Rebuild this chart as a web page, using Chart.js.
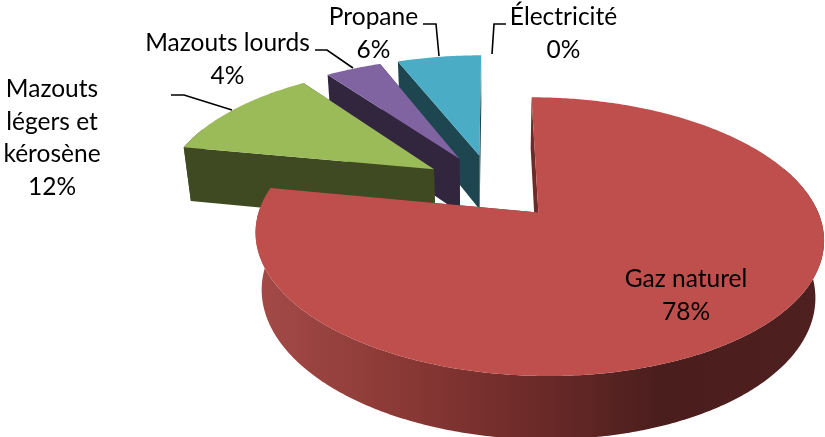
<!DOCTYPE html>
<html><head><meta charset="utf-8">
<style>html,body{margin:0;padding:0;background:#fff}canvas{display:block}</style>
<script src="https://cdn.jsdelivr.net/npm/chart.js@4"></script>
</head><body><canvas id="c" width="825" height="437"></canvas>
<script>
const categories = ["Gaz naturel","Mazouts légers et kérosène","Mazouts lourds","Propane","Électricité"];
const shares = [78,12,4,6,0];
const topColors = ["#BE4F4C","#9BBB59","#8064A2","#4BACC6","#4F81BD"];
const sideColors = ["#6E2A28","#3F4A22","#32263F","#1E4650","#24405E"];

// projection of the pie plane on the page
const VIEW = {xc:492, yc:186.4, F:270.5, A:126.3, B:0.167, K:57, D:0.025, explode:0.26};
function proj(X,Y,low){
  const w = 1 - VIEW.B*Y + (low?VIEW.D:0);
  return [VIEW.xc + VIEW.F*X/w, VIEW.yc + (VIEW.A*Y + (low?VIEW.K:0))/w];
}
function drawArc3D(ctx){
  const a0=this.startAngle, a1=this.endAngle;
  if(a1-a0<1e-4) return;
  const mid=(a0+a1)/2, ox=Math.cos(mid)*VIEW.explode, oy=Math.sin(mid)*VIEW.explode;
  const top=this.options.backgroundColor, side=this.options.borderColor;
  const rim=(a,low)=>proj(ox+Math.cos(a),oy+Math.sin(a),low);
  const apex=low=>proj(ox,oy,low);
  const poly=(pts,fill)=>{ctx.beginPath();pts.forEach((p,i)=>i?ctx.lineTo(p[0],p[1]):ctx.moveTo(p[0],p[1]));ctx.closePath();ctx.fillStyle=fill;ctx.fill();};
  ctx.save();
  // radial faces, then outer wall, then top
  poly([apex(false),rim(a0,false),rim(a0,true),apex(true)],side);
  poly([apex(false),rim(a1,false),rim(a1,true),apex(true)],side);
  const n=Math.max(8,Math.ceil((a1-a0)*90));
  const wallTop=[],wallLow=[],topPts=[apex(false)];
  for(let i=0;i<=n;i++){const a=a0+(a1-a0)*i/n;
    const p=rim(a,false);topPts.push(p);
    if(Math.sin(a)>-0.35){wallTop.push(p);wallLow.unshift(rim(a,true));}}
  if(wallTop.length>1){
    let fill=side;
    if(this.$context && this.$context.dataIndex===0){
      const g=ctx.createLinearGradient(255,0,825,0);
      g.addColorStop(0,"#A44B48");g.addColorStop(0.25,"#8B3936");
      g.addColorStop(0.48,"#6E2B29");g.addColorStop(0.71,"#4A1E1D");g.addColorStop(1,"#4E201F");
      fill=g;
    }
    poly(wallTop.concat(wallLow),fill);
  }
  poly(topPts,top);
  ctx.restore();
}
Chart.ArcElement.prototype.draw=drawArc3D;

const calloutFont='24.5px Lato, "Open Sans", sans-serif';
const callouts=[
 {lines:["Mazouts","légers et","kérosène"],x:52,y:97},
 {lines:["Mazouts lourds"],x:227.5,y:51},
 {lines:["Propane"],x:373.5,y:25},
 {lines:["Électricité"],x:563.5,y:25},
 {lines:["Gaz naturel"],x:686,y:287}
];
const leaders=[
 [[171,95],[184,95],[232,110]],
 [[315,50],[327,50],[353,68]],
 [[423,24],[436,24],[439,56]],
 [[506,24],[494,24],[492,54]]
];
const backToFront={id:"backToFront",
 beforeDatasetDraw(chart,args){
  const ctx=chart.ctx, els=args.meta.data;
  [...els].reverse().forEach(el=>el.draw(ctx));
  return false;
 },
 afterDraw(chart){
  const ctx=chart.ctx;
  ctx.save();
  ctx.strokeStyle="#000";ctx.lineWidth=1.6;
  leaders.forEach(l=>{ctx.beginPath();l.forEach((p,i)=>i?ctx.lineTo(p[0],p[1]):ctx.moveTo(p[0],p[1]));ctx.stroke();});
  ctx.fillStyle="#000";ctx.font=calloutFont;ctx.textAlign="center";ctx.textBaseline="alphabetic";
  const gap=32.6;
  callouts.forEach(c=>{
    const i=categories.indexOf(c.lines.join(" "));
    c.lines.forEach((t,k)=>ctx.fillText(t,c.x,c.y+k*gap));
    ctx.fillText(shares[i]+"%",c.x,c.y+c.lines.length*gap);
  });
  ctx.restore();
 }};
new Chart(document.getElementById("c"),{
 type:"pie",
 data:{labels:categories,datasets:[{data:shares,backgroundColor:topColors,borderColor:sideColors,borderWidth:0}]},
 options:{responsive:false,animation:false,plugins:{legend:{display:false},tooltip:{enabled:false}}},
 plugins:[backToFront]
});
</script></body></html>
